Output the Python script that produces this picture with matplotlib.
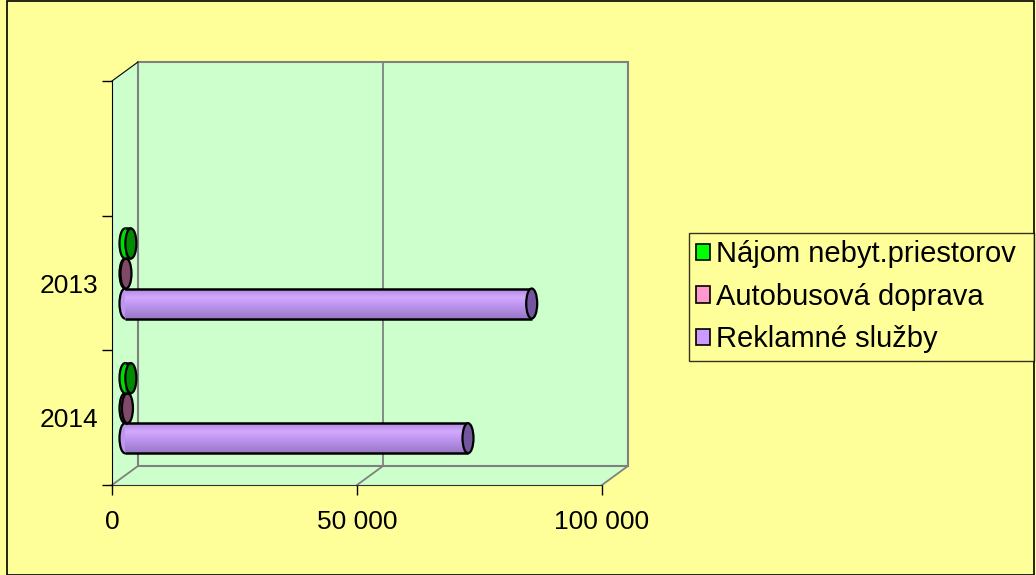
import numpy as np
import matplotlib
matplotlib.use('Agg')
import matplotlib.pyplot as plt
import matplotlib.transforms as mtransforms
from matplotlib.patches import Rectangle, Ellipse, Polygon, Patch
from matplotlib.lines import Line2D
from matplotlib.colors import LinearSegmentedColormap

plt.rcParams['font.family'] = ['Liberation Sans', 'DejaVu Sans']

# data
years = ['2014', '2013']
series = ['Reklamné služby', 'Autobusová doprava', 'Nájom nebyt.priestorov']
reklamne = [70000, 83000]
autobusova = [500, 200]
najom = [1200, 1200]
x_ticks = [0, 50000, 100000]
x_labels = ['0', '50 000', '100 000']

values = [reklamne, autobusova, najom]
legend_colors = ['#CC99FF', '#FF99CC', '#00FF00']
body_grads = [['#A987D8', '#D4A8FF', '#BE96F0', '#9877C4'],
              ['#9A5A80', '#B87098', '#8E5476', '#6E3E5A'],
              ['#00B000', '#33FF33', '#00DD00', '#009900']]
cap_colors = ['#73579E', '#7E4A68', '#008A00']

W, H = 1036, 575
DX, DY = 26, 19          # depth of the 3d box in pixels
left, right, top, bottom = 112, 602, 81, 485

fig = plt.figure(figsize=(W / 100, H / 100), dpi=100, facecolor='#FFFF99')
ax = fig.add_axes([left / W, (H - bottom) / H, (right - left) / W, (bottom - top) / H])
ax.set_facecolor('none')

xmax = x_ticks[-1]
ax.set_xlim(0, xmax)
ax.set_ylim(-0.5, len(years) + 0.5)

# walls
dxa = DX / (right - left)
dya = DY / (bottom - top)
wall = '#CCFFCC'
ax.add_patch(Polygon([(0, 0), (dxa, dya), (dxa, 1 + dya), (0, 1)], closed=True,
                     transform=ax.transAxes, facecolor=wall, edgecolor='none', zorder=0, clip_on=False))
ax.add_patch(Polygon([(0, 0), (1, 0), (1 + dxa, dya), (dxa, dya)], closed=True,
                     transform=ax.transAxes, facecolor=wall, edgecolor='none', zorder=0, clip_on=False))
ax.add_patch(Rectangle((dxa, dya), 1, 1, transform=ax.transAxes, facecolor=wall,
                       edgecolor='#808080', lw=1.5, zorder=0.5, clip_on=False))
ax.add_line(Line2D([0, dxa], [1, 1 + dya], transform=ax.transAxes, color='black', lw=0.8, clip_on=False))
for t in x_ticks:
    f = t / xmax
    ax.add_line(Line2D([f, f + dxa], [0, dya], transform=ax.transAxes, color='#808080',
                       lw=1.3, clip_on=False, zorder=0.6))
    if 0 < t < xmax:
        ax.add_line(Line2D([f + dxa, f + dxa], [dya, 1 + dya], transform=ax.transAxes,
                           color='#808080', lw=1.3, clip_on=False, zorder=0.6))

# cylinders sit half way into the box
bar_tr = ax.transData + mtransforms.ScaledTranslation(DX / 2 / 100, DY / 2 / 100, fig.dpi_scale_trans)
h = 0.223
cap_w = 11 * xmax / (right - left)
grad = np.linspace(0, 1, 80).reshape(-1, 1)

for k, vals in enumerate(values):
    cmap = LinearSegmentedColormap.from_list('c%d' % k, list(zip([0, 0.3, 0.55, 1], body_grads[k])))
    for i, v in enumerate(vals):
        yc = i + (k - 1) * h
        z = 3 + k * 0.1 + i
        ax.add_patch(Ellipse((0, yc), cap_w, h, transform=bar_tr, facecolor=body_grads[k][2],
                             edgecolor='black', lw=1.6, zorder=z))
        bars = ax.barh(yc, v, height=h, left=0, color=body_grads[k][2], edgecolor='none',
                       transform=bar_tr, zorder=z + 0.01)
        im = ax.imshow(grad, extent=(0, v, yc - h / 2, yc + h / 2), cmap=cmap, aspect='auto',
                       transform=bar_tr, zorder=z + 0.02, interpolation='bilinear')
        im.set_clip_path(bars.patches[0])
        ax.hlines([yc - h / 2, yc + h / 2], 0, v, colors='black', lw=1.8,
                  transform=bar_tr, zorder=z + 0.03)
        ax.add_patch(Ellipse((v, yc), cap_w, h, transform=bar_tr, facecolor=cap_colors[k],
                             edgecolor='black', lw=1.6, zorder=z + 0.04))

ax.set_xlim(0, xmax)
ax.set_ylim(-0.5, len(years) + 0.5)

# axes
for s in ['top', 'right']:
    ax.spines[s].set_visible(False)
ax.spines['left'].set_color('black')
ax.spines['bottom'].set_color('#333333')
ax.spines['left'].set_zorder(10)
ax.set_xticks(x_ticks)
ax.set_xticklabels(x_labels)
ax.set_yticks(np.arange(-0.5, len(years) + 1))
ax.set_yticklabels([])
ax.set_yticks(np.arange(len(years)), minor=True)
ax.set_yticklabels(years, minor=True)
ax.tick_params(axis='y', which='major', length=7, direction='out', width=1, color='black')
ax.tick_params(axis='y', which='minor', length=0, pad=10, labelsize=19)
ax.tick_params(axis='x', length=7, direction='out', width=1, color='black', pad=11, labelsize=19)

# legend
handles = [Patch(facecolor=legend_colors[k], edgecolor='black', lw=1.2) for k in [2, 1, 0]]
labels = [series[k] for k in [2, 1, 0]]
leg = fig.legend(handles, labels, loc='upper left',
                 bbox_to_anchor=(689 / W, (H - 352) / H, (1034 - 689) / W, 119 / H),
                 mode='expand', borderaxespad=0, fontsize=21, frameon=True, fancybox=False,
                 handlelength=0.48, handleheight=0.48, handletextpad=0.2, labelspacing=0.5,
                 borderpad=0.25)
leg.get_frame().set_edgecolor('black')
leg.get_frame().set_facecolor('#FFFF99')
leg.get_frame().set_linewidth(1)

# chart border
fig.patches.append(Rectangle((7 / W, 0.5 / H), (1034 - 7) / W, (H - 1.5) / H, transform=fig.transFigure,
                             fill=False, edgecolor='black', lw=1.2))

fig.savefig('out.png', dpi=100, facecolor=fig.get_facecolor())
